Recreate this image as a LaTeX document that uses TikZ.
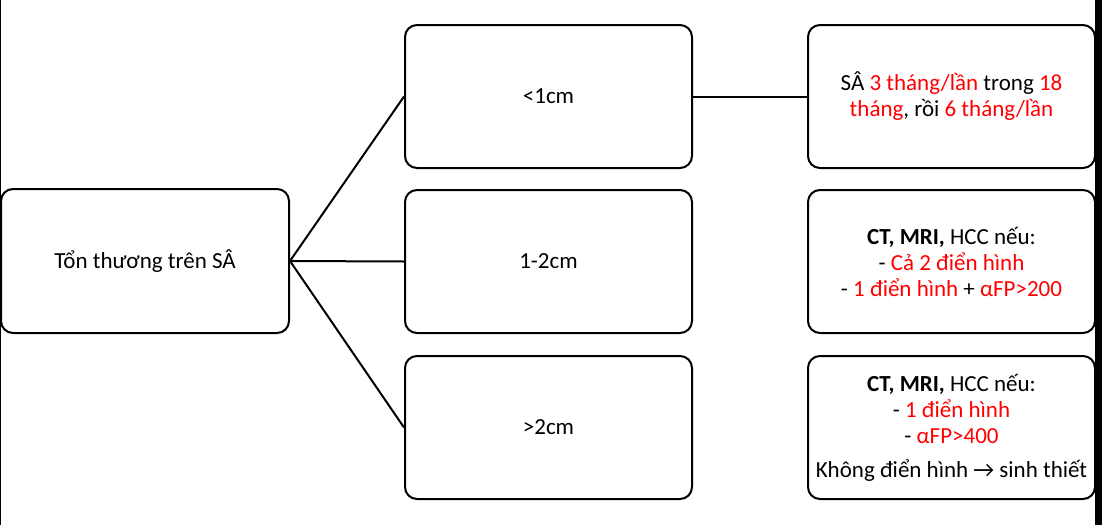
\documentclass[tikz,border=0pt]{standalone}
\usepackage{fontspec}
\setmainfont{Carlito}
\begin{document}
\begin{tikzpicture}[x=1pt,y=-1pt,
  box/.style={draw, line width=2pt, rounded corners=12pt,
    minimum width=287pt, minimum height=143pt, align=center,
    inner sep=0pt, font=\fontsize{23}{26}\selectfont},
  link/.style={line width=2pt},
  hl/.style={}]
\useasboundingbox (0,0) rectangle (1102,525);

% root
\node[box, minimum width=288pt, minimum height=144pt] (root) at (145,261) {Tổn thương trên SÂ};

% size classes
\node[box] (s1) at (548.5,96.5)  {<1cm};
\node[box] (s2) at (548.5,261.5) {1-2cm};
\node[box] (s3) at (548.5,427.5) {>2cm};

% follow-up actions
\node[box] (a1) at (951.5,96.5) {SÂ \textcolor{red}{3 tháng/lần} trong \textcolor{red}{18}\\
  \textcolor{red}{tháng}, rồi \textcolor{red}{6 tháng/lần}};
\node[box] (a2) at (951.5,261.5) {\textbf{CT, MRI,} HCC nếu:\\
  - \textcolor{red}{Cả 2 điển hình}\\
  - \textcolor{red}{1 điển hình} + \textcolor{red}{αFP>200}};
\node[box] (a3) at (951.5,427.5) {\textbf{CT, MRI,} HCC nếu:\\
  - \textcolor{red}{1 điển hình}\\
  - \textcolor{red}{αFP>400}\\[8pt]
  Không điển hình → sinh thiết};

% connectors
\draw[link] (root.east) -- (s1.west);
\draw[link] (root.east) -- (s2.west);
\draw[link] (root.east) -- (s3.west);
\draw[link] (s1.east) -- (a1.west);

% frame edges
\fill (0,0) rectangle (1,525);
\fill (1095,0) rectangle (1102,525);
\end{tikzpicture}
\end{document}
